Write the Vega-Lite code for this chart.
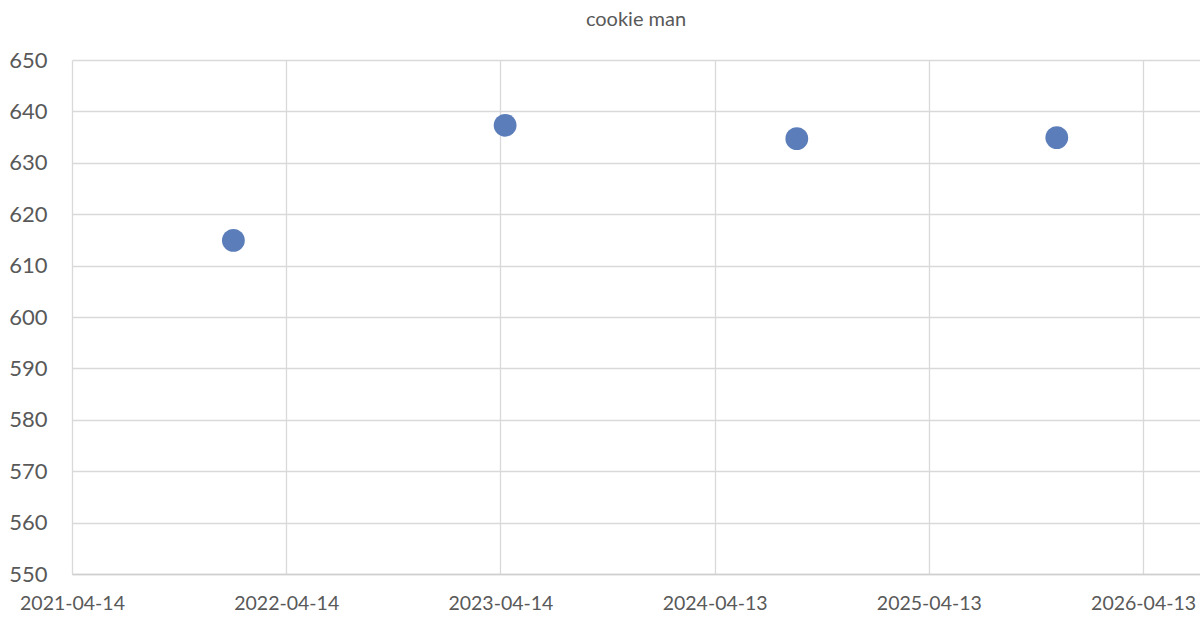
{
  "$schema": "https://vega.github.io/schema/vega-lite/v6.json",
  "autosize": {"type": "none"},
  "width": 1128,
  "height": 514,
  "padding": {"left": 72, "top": 60, "right": 0, "bottom": 48},
  "background": "white",
  "title": {
    "text": "cookie man",
    "font": "Lato",
    "fontSize": 20,
    "fontWeight": "normal",
    "color": "#595959",
    "anchor": "middle",
    "offset": 19
  },
  "config": {
    "view": {"stroke": null},
    "axis": {"labelFont": "Lato", "labelColor": "#595959", "gridColor": "#d9d9d9", "gridWidth": 1.3}
  },
  "data": {
    "values": [
      {"date": "2022-01-14", "value": 614.9},
      {"date": "2023-04-22", "value": 637.3},
      {"date": "2024-08-31", "value": 634.7},
      {"date": "2025-11-17", "value": 634.9}
    ]
  },
  "mark": {"type": "point", "filled": true, "shape": "circle", "size": 520, "color": "#5b7ebb", "opacity": 1},
  "encoding": {
    "x": {
      "field": "date",
      "type": "temporal",
      "scale": {
        "type": "utc",
        "domain": [
          {"year": 2021, "month": 4, "date": 14, "utc": true},
          {"year": 2026, "month": 7, "date": 19, "utc": true}
        ],
        "nice": false
      },
      "axis": {
        "title": null,
        "values": [
          {"year": 2021, "month": 4, "date": 14, "utc": true},
          {"year": 2022, "month": 4, "date": 14, "utc": true},
          {"year": 2023, "month": 4, "date": 14, "utc": true},
          {"year": 2024, "month": 4, "date": 13, "utc": true},
          {"year": 2025, "month": 4, "date": 13, "utc": true},
          {"year": 2026, "month": 4, "date": 13, "utc": true}
        ],
        "labelExpr": "utcFormat(datum.value, '%Y-%m-%d')",
        "labelFontSize": 19.5,
        "labelPadding": 20,
        "labelFlush": false,
        "labelOverlap": false,
        "ticks": false,
        "domainColor": "#cfcfcf",
        "domainWidth": 1.3,
        "grid": true
      }
    },
    "y": {
      "field": "value",
      "type": "quantitative",
      "scale": {"domain": [550, 650], "nice": false, "zero": false},
      "axis": {
        "title": null,
        "values": [550, 560, 570, 580, 590, 600, 610, 620, 630, 640, 650],
        "labelFontSize": 22,
        "labelPadding": 25,
        "ticks": false,
        "domain": false,
        "grid": true
      }
    }
  }
}
